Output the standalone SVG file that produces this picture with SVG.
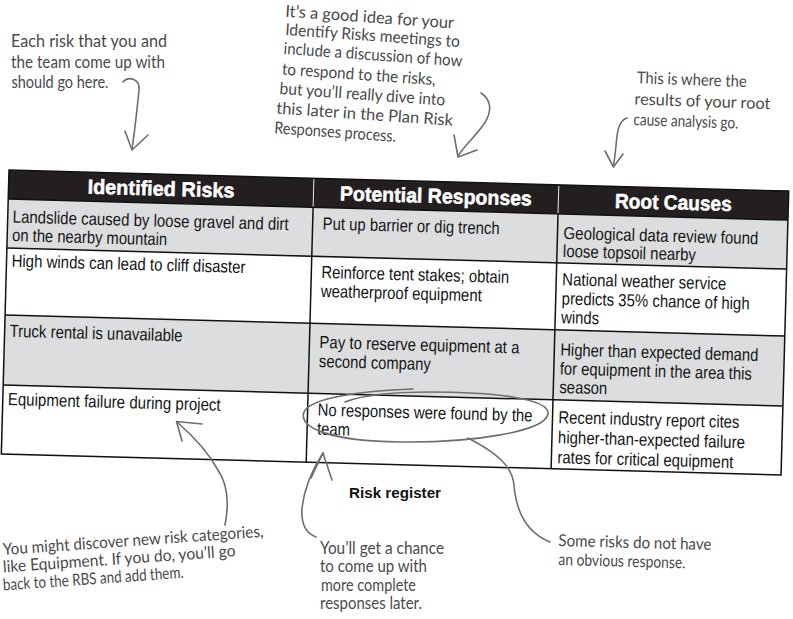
<svg xmlns="http://www.w3.org/2000/svg" width="793" height="619" viewBox="0 0 793 619">
<style>
.hdr{font-family:"Liberation Sans",Arial,sans-serif;font-weight:bold;font-size:20.5px;fill:#fff;stroke:#fff;stroke-width:0.5;text-anchor:middle}
.cell{font-family:"Liberation Sans",Arial,sans-serif;font-size:17.5px;fill:#151515}
.note{font-family:Lato,"Noto Sans",sans-serif;font-size:16.5px;fill:#4a4a4a}
.cap{font-family:"Liberation Sans",Arial,sans-serif;font-weight:bold;font-size:14.5px;fill:#111}
.grid{stroke:#111;stroke-width:1.5;fill:none}
.gray{fill:#dcddde}
.pen{fill:none;stroke:#6e6e6e;stroke-width:1.6;stroke-linecap:round;stroke-linejoin:round}
</style>
<rect width="793" height="619" fill="#fff"/>
<g id="risk-register" transform="translate(9,170) rotate(1.55)">
  <g id="header">
    <rect x="0" y="0" width="780" height="29" fill="#231f20"/>
    <line x1="305" y1="1" x2="305" y2="29" stroke="#e6e6e6" stroke-width="1"/>
    <line x1="550" y1="1" x2="550" y2="29" stroke="#e6e6e6" stroke-width="1"/>
    <text class="hdr" x="152.5" y="21.5" textLength="147" lengthAdjust="spacingAndGlyphs">Identified Risks</text>
    <text class="hdr" x="427.5" y="21.5" textLength="192" lengthAdjust="spacingAndGlyphs">Potential Responses</text>
    <text class="hdr" x="665" y="21.5" textLength="117" lengthAdjust="spacingAndGlyphs">Root Causes</text>
  </g>
  <g id="rows-bg">
    <rect class="gray" x="0" y="29" width="780" height="49"/>
    <rect x="0" y="78" width="780" height="67" fill="#fff"/>
    <rect class="gray" x="0" y="145" width="780" height="70"/>
    <rect x="0" y="215" width="780" height="69" fill="#fff"/>
  </g>
  <g id="grid">
    <rect class="grid" x="0" y="0" width="780" height="284"/>
    <line class="grid" x1="0" y1="29" x2="780" y2="29"/>
    <line class="grid" x1="0" y1="78" x2="780" y2="78"/>
    <line class="grid" x1="0" y1="145" x2="780" y2="145"/>
    <line class="grid" x1="0" y1="215" x2="780" y2="215"/>
    <line class="grid" x1="305" y1="29" x2="305" y2="284"/>
    <line class="grid" x1="550" y1="29" x2="550" y2="284"/>
  </g>
  <g id="row-1">
    <text class="cell" x="5" y="52.5" textLength="276" lengthAdjust="spacingAndGlyphs">Landslide caused by loose gravel and dirt</text>
    <text class="cell" x="5" y="71" textLength="155" lengthAdjust="spacingAndGlyphs">on the nearby mountain</text>
    <text class="cell" x="315" y="51" textLength="177" lengthAdjust="spacingAndGlyphs">Put up barrier or dig trench</text>
    <text class="cell" x="556" y="54" textLength="195" lengthAdjust="spacingAndGlyphs">Geological data review found</text>
    <text class="cell" x="556" y="72" textLength="133" lengthAdjust="spacingAndGlyphs">loose topsoil nearby</text>
  </g>
  <g id="row-2">
    <text class="cell" x="5" y="96.6" textLength="234" lengthAdjust="spacingAndGlyphs">High winds can lead to cliff disaster</text>
    <text class="cell" x="315" y="99.5" textLength="188" lengthAdjust="spacingAndGlyphs">Reinforce tent stakes; obtain</text>
    <text class="cell" x="315" y="118.5" textLength="161" lengthAdjust="spacingAndGlyphs">weatherproof equipment</text>
    <text class="cell" x="556" y="100.2" textLength="164" lengthAdjust="spacingAndGlyphs">National weather service</text>
    <text class="cell" x="556" y="119.4" textLength="188" lengthAdjust="spacingAndGlyphs">predicts 35% chance of high</text>
    <text class="cell" x="556" y="138.2" textLength="38" lengthAdjust="spacingAndGlyphs">winds</text>
  </g>
  <g id="row-3">
    <text class="cell" x="5" y="166.7" textLength="173" lengthAdjust="spacingAndGlyphs">Truck rental is unavailable</text>
    <text class="cell" x="315" y="169.6" textLength="200" lengthAdjust="spacingAndGlyphs">Pay to reserve equipment at a</text>
    <text class="cell" x="315" y="188.6" textLength="112" lengthAdjust="spacingAndGlyphs">second company</text>
    <text class="cell" x="556" y="170.6" textLength="198" lengthAdjust="spacingAndGlyphs">Higher than expected demand</text>
    <text class="cell" x="556" y="189.5" textLength="192" lengthAdjust="spacingAndGlyphs">for equipment in the area this</text>
    <text class="cell" x="556" y="208" textLength="48" lengthAdjust="spacingAndGlyphs">season</text>
  </g>
  <g id="row-4">
    <text class="cell" x="5" y="235" textLength="213" lengthAdjust="spacingAndGlyphs">Equipment failure during project</text>
    <text class="cell" x="315" y="237.2" textLength="215" lengthAdjust="spacingAndGlyphs">No responses were found by the</text>
    <text class="cell" x="315" y="256.2" textLength="33" lengthAdjust="spacingAndGlyphs">team</text>
    <text class="cell" x="556" y="238.2" textLength="181" lengthAdjust="spacingAndGlyphs">Recent industry report cites</text>
    <text class="cell" x="556" y="258.3" textLength="187" lengthAdjust="spacingAndGlyphs">higher-than-expected failure</text>
    <text class="cell" x="556" y="278.3" textLength="176" lengthAdjust="spacingAndGlyphs">rates for critical equipment</text>
  </g>
</g>
<g id="caption">
  <text class="cap" x="349" y="498.3" textLength="92" lengthAdjust="spacingAndGlyphs">Risk register</text>
</g>
<g id="note-identified">
  <text class="note" x="11" y="47" textLength="156" lengthAdjust="spacingAndGlyphs">Each risk that you and</text>
  <text class="note" x="11" y="67.5" textLength="154" lengthAdjust="spacingAndGlyphs">the team come up with</text>
  <text class="note" x="11.5" y="88" textLength="97" lengthAdjust="spacingAndGlyphs">should go here.</text>
</g>
<g id="note-responses">
  <text class="note" x="285" y="16.7" transform="rotate(4 285 16.7)" textLength="169" lengthAdjust="spacingAndGlyphs">It’s a good idea for your</text>
  <text class="note" x="285" y="35" transform="rotate(4 285 35)" textLength="175" lengthAdjust="spacingAndGlyphs">Identify Risks meetings to</text>
  <text class="note" x="283.3" y="54" transform="rotate(4 283.3 54)" textLength="179" lengthAdjust="spacingAndGlyphs">include a discussion of how</text>
  <text class="note" x="281.7" y="74.5" transform="rotate(4 281.7 74.5)" textLength="154" lengthAdjust="spacingAndGlyphs">to respond to the risks,</text>
  <text class="note" x="279.3" y="94" transform="rotate(4 279.3 94)" textLength="166" lengthAdjust="spacingAndGlyphs">but you’ll really dive into</text>
  <text class="note" x="276" y="113.5" transform="rotate(4 276 113.5)" textLength="177" lengthAdjust="spacingAndGlyphs">this later in the Plan Risk</text>
  <text class="note" x="274" y="133.3" transform="rotate(4 274 133.3)" textLength="122" lengthAdjust="spacingAndGlyphs">Responses process.</text>
</g>
<g id="note-root">
  <text class="note" x="636.7" y="83.3" transform="rotate(2 636.7 83.3)" textLength="110" lengthAdjust="spacingAndGlyphs">This is where the</text>
  <text class="note" x="634.3" y="104.5" transform="rotate(2 634.3 104.5)" textLength="136" lengthAdjust="spacingAndGlyphs">results of your root</text>
  <text class="note" x="633.3" y="125" transform="rotate(2 633.3 125)" textLength="105" lengthAdjust="spacingAndGlyphs">cause analysis go.</text>
</g>
<g id="note-categories">
  <text class="note" x="3.3" y="555" transform="rotate(-4 3.3 555)" textLength="261" lengthAdjust="spacingAndGlyphs">You might discover new risk categories,</text>
  <text class="note" x="3.3" y="572.5" transform="rotate(-4 3.3 572.5)" textLength="233" lengthAdjust="spacingAndGlyphs">like Equipment. If you do, you’ll go</text>
  <text class="note" x="3.3" y="590.5" transform="rotate(-4 3.3 590.5)" textLength="181" lengthAdjust="spacingAndGlyphs">back to the RBS and add them.</text>
</g>
<g id="note-later">
  <text class="note" x="320" y="553.5" textLength="124" lengthAdjust="spacingAndGlyphs">You’ll get a chance</text>
  <text class="note" x="320" y="572" textLength="107" lengthAdjust="spacingAndGlyphs">to come up with</text>
  <text class="note" x="321" y="590.5" textLength="95" lengthAdjust="spacingAndGlyphs">more complete</text>
  <text class="note" x="320" y="609" textLength="102" lengthAdjust="spacingAndGlyphs">responses later.</text>
</g>
<g id="note-obvious">
  <text class="note" x="558.3" y="546" transform="rotate(1.5 558.3 546)" textLength="153" lengthAdjust="spacingAndGlyphs">Some risks do not have</text>
  <text class="note" x="558.3" y="565" transform="rotate(1.5 558.3 565)" textLength="127" lengthAdjust="spacingAndGlyphs">an obvious response.</text>
</g>
<g id="connectors">
  <path class="pen" d="M123 82 C128 76 140 78 139 90 C137 110 135 130 132 149"/>
  <path class="pen" d="M125 131 L132 150 L148 135"/>
  <path class="pen" d="M481 93 C492 100 492 112 484 124 C474 138 464 146 458 156"/>
  <path class="pen" d="M454 135 L458 157 L477 150"/>
  <path class="pen" d="M627 118 C620 120 618 128 617 136 C616 146 615 156 613.5 166"/>
  <path class="pen" d="M605 151 L613.5 167 L623 154"/>
  <path class="pen" d="M225 525 C229 505 228 485 218 470 C208 452 192 435 177 422"/>
  <path class="pen" d="M182 441 L176.5 421.5 L202 424"/>
  <path class="pen" d="M316 537 C305 533 301 522 302 508 C304 490 312 470 323 453"/>
  <path class="pen" d="M311 478 L323 453 L332 480"/>
  <path class="pen" d="M468 438 C495 452 512 465 514 485 C516 510 525 532 550 542"/>
  <path class="pen" d="M413 389 C360 391 310 398 304 412 C298 428 330 441 400 442 C470 443 545 432 548 414 C550 398 490 392 430 392 C390 392 360 396 345 402"/>
</g>
</svg>
